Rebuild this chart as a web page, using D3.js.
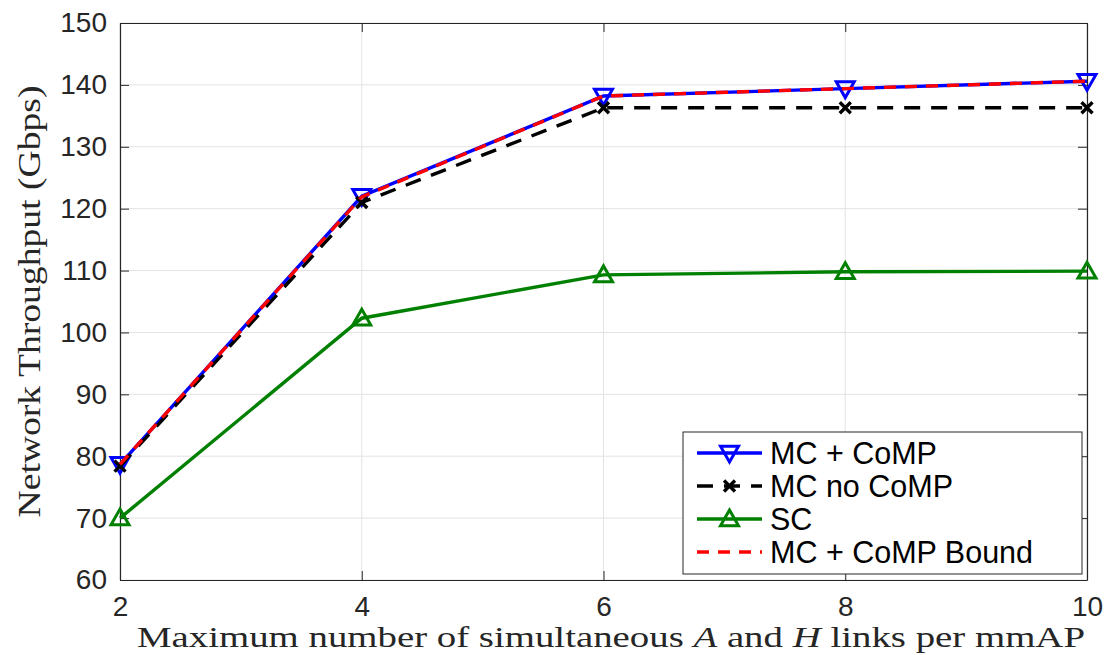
<!DOCTYPE html>
<html>
<head>
<meta charset="utf-8">
<script src="https://cdn.jsdelivr.net/npm/d3@7"></script>
<style>
  body { margin: 0; background: #fff; }
  svg { display: block; }
  .tick text { font-family: "Liberation Sans", Arial, sans-serif; font-size: 28px; fill: #262626; }
  .lbl { font-family: "Liberation Serif", "DejaVu Serif", serif; fill: #262626; }
  .leg { font-family: "Liberation Sans", Arial, sans-serif; font-size: 30.5px; fill: #000; }
</style>
</head>
<body>
<svg id="chart" width="1107" height="655"></svg>
<script>
// data
var linksPerAP = [2, 4, 6, 8, 10];
var mcComp = [78.7, 122.0, 138.2, 139.4, 140.6];
var mcNoComp = [78.4, 121.0, 136.3, 136.3, 136.3];
var sc = [70.0, 102.3, 109.3, 109.8, 109.9];
var mcCompBound = [78.7, 121.9, 138.2, 139.4, 140.6];
var yTicks = [60, 70, 80, 90, 100, 110, 120, 130, 140, 150];
var xTicks = [2, 4, 6, 8, 10];

var series = [
  { name: "MC + CoMP", values: mcComp, color: "#0000ff", dash: null, marker: "down" },
  { name: "MC no CoMP", values: mcNoComp, color: "#000000", dash: "16,11", marker: "x" },
  { name: "SC", values: sc, color: "#008000", dash: null, marker: "up" },
  { name: "MC + CoMP Bound", values: mcCompBound, color: "#ff0000", dash: "12,9", marker: null }
];

var svg = d3.select("#chart");
var pLeft = 120, pRight = 1087, pTop = 23, pBottom = 580;

var x = d3.scaleLinear().domain([2, 10]).range([pLeft, pRight]);
var y = d3.scaleLinear().domain([60, 150]).range([pBottom, pTop]);

// grid
var grid = svg.append("g");
grid.selectAll(".gx").data(xTicks).enter().append("line")
  .attr("x1", function (d) { return x(d); }).attr("x2", function (d) { return x(d); })
  .attr("y1", pTop).attr("y2", pBottom)
  .attr("stroke", "#e3e3e3").attr("stroke-width", 1);
grid.selectAll(".gy").data(yTicks).enter().append("line")
  .attr("x1", pLeft).attr("x2", pRight)
  .attr("y1", function (d) { return y(d); }).attr("y2", function (d) { return y(d); })
  .attr("stroke", "#e3e3e3").attr("stroke-width", 1);

// axes (box with inward ticks on all sides)
svg.append("g").attr("transform", "translate(0," + pBottom + ")")
  .call(d3.axisBottom(x).tickValues(xTicks).tickSize(-9).tickPadding(16).tickSizeOuter(0));
svg.append("g").attr("transform", "translate(" + pLeft + ",0)")
  .call(d3.axisLeft(y).tickValues(yTicks).tickSize(-9).tickPadding(13).tickSizeOuter(0));
svg.append("g").attr("transform", "translate(0," + pTop + ")")
  .call(d3.axisTop(x).tickValues(xTicks).tickSize(-9).tickFormat("").tickSizeOuter(0));
svg.append("g").attr("transform", "translate(" + pRight + ",0)")
  .call(d3.axisRight(y).tickValues(yTicks).tickSize(-9).tickFormat("").tickSizeOuter(0));
svg.selectAll(".domain").attr("stroke", "#262626").attr("stroke-width", 1.2);
svg.selectAll(".tick line").attr("stroke", "#262626");

// lines
var line = d3.line()
  .x(function (d, i) { return x(linksPerAP[i]); })
  .y(function (d) { return y(d); });

function drawMarker(g, type, cx, cy, color) {
  var s = 9;
  if (type === "down") {
    g.append("path").attr("d", "M" + (cx - s) + "," + (cy - s * 0.75) + "L" + (cx + s) + "," + (cy - s * 0.75) + "L" + cx + "," + (cy + s) + "Z")
      .attr("fill", "none").attr("stroke", color).attr("stroke-width", 3);
  } else if (type === "up") {
    g.append("path").attr("d", "M" + (cx - s) + "," + (cy + s * 0.75) + "L" + (cx + s) + "," + (cy + s * 0.75) + "L" + cx + "," + (cy - s) + "Z")
      .attr("fill", "none").attr("stroke", color).attr("stroke-width", 3);
  } else if (type === "x") {
    var k = 5.5;
    g.append("path").attr("d", "M" + (cx - k) + "," + (cy - k) + "L" + (cx + k) + "," + (cy + k) + "M" + (cx - k) + "," + (cy + k) + "L" + (cx + k) + "," + (cy - k))
      .attr("fill", "none").attr("stroke", color).attr("stroke-width", 3.4);
  }
}

var plot = svg.append("g");
series.forEach(function (s) {
  var g = plot.append("g");
  g.append("path").datum(s.values)
    .attr("d", line)
    .attr("fill", "none").attr("stroke", s.color).attr("stroke-width", 3.4)
    .attr("stroke-dasharray", s.dash);
  if (s.marker) {
    s.values.forEach(function (v, i) { drawMarker(g, s.marker, x(linksPerAP[i]), y(v), s.color); });
  }
});

// legend
var lg = svg.append("g");
lg.append("rect").attr("x", 683).attr("y", 432).attr("width", 399).attr("height", 142)
  .attr("fill", "#fff").attr("stroke", "#262626").attr("stroke-width", 1);
var rowY = [453, 486, 519, 552];
series.forEach(function (s, i) {
  var yy = rowY[i];
  lg.append("line").attr("x1", 697).attr("x2", 762).attr("y1", yy).attr("y2", yy)
    .attr("stroke", s.color).attr("stroke-width", 3.4).attr("stroke-dasharray", s.dash);
  if (s.marker) drawMarker(lg, s.marker, 729.5, yy, s.color);
  lg.append("text").attr("class", "leg").attr("x", 770).attr("y", yy + 10.5).text(s.name);
});

// axis labels
var xl = svg.append("text").attr("class", "lbl").style("font-size", "30px")
  .attr("x", 611).attr("y", 647)
  .attr("text-anchor", "middle").attr("textLength", 948).attr("lengthAdjust", "spacingAndGlyphs");
xl.append("tspan").text("Maximum number of simultaneous ");
xl.append("tspan").attr("font-style", "italic").text("A");
xl.append("tspan").text(" and ");
xl.append("tspan").attr("font-style", "italic").text("H");
xl.append("tspan").text(" links per mmAP");

svg.append("text").attr("class", "lbl").style("font-size", "32px")
  .attr("transform", "translate(40," + ((pTop + pBottom) / 2) + ") rotate(-90)")
  .attr("text-anchor", "middle").attr("textLength", 432).attr("lengthAdjust", "spacingAndGlyphs")
  .text("Network Throughput (Gbps)");
</script>
</body>
</html>
